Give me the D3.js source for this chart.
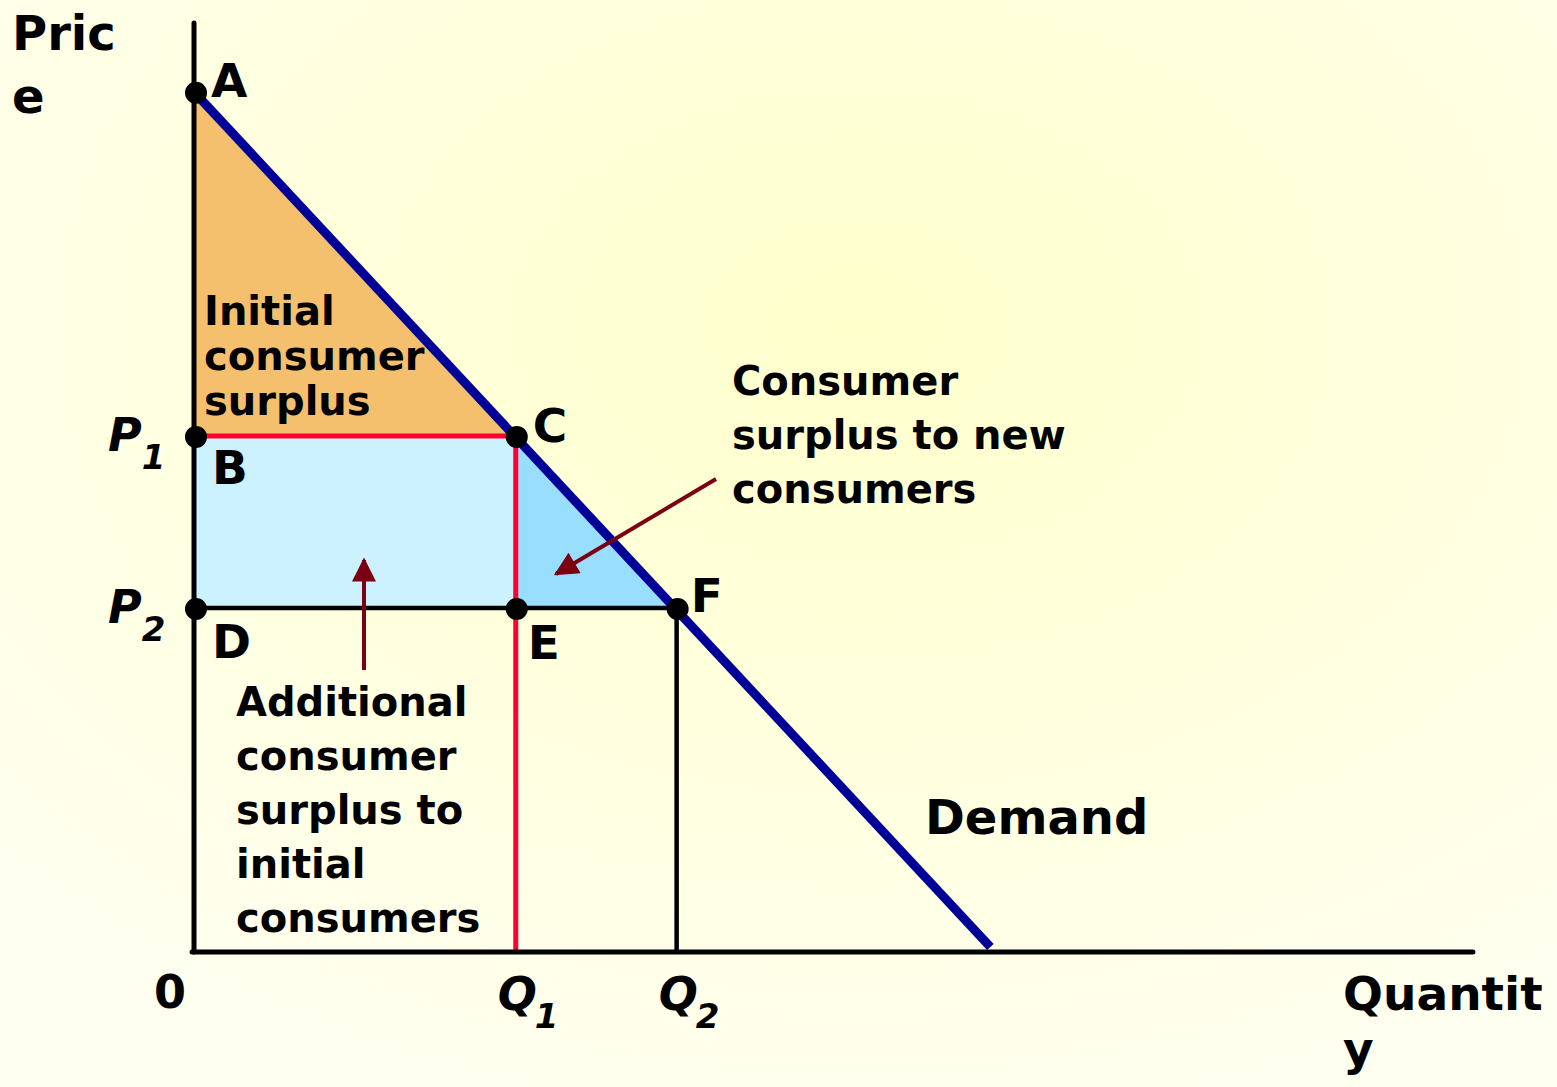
<!DOCTYPE html>
<html lang="en">
<head>
<meta charset="UTF-8">
<title>Consumer surplus</title>
<script src="https://d3js.org/d3.v7.min.js"></script>
<style>
    body { margin: 0; overflow: hidden; }
    svg text { font-family: "DejaVu Sans", Verdana, sans-serif; font-weight: bold; fill: #000; }
</style>
</head>
<body>
<svg id="chart" width="1557" height="1087"></svg>
<script>
    // demand curve end points (quantity, price)
    const demandQ = [0, 10];
    const demandP = [10, 0];
    // market prices and quantities before / after
    const prices = [6, 4];        // P1, P2
    const quantities = [4, 6];    // Q1, Q2
    const priceNames = ['1', '2'];
    const qtyNames = ['1', '2'];
    // labelled points
    const pointNames = ['A', 'B', 'C', 'D', 'E', 'F'];
    const pointQ = [0, 0, 4, 0, 4, 6];
    const pointP = [10, 6, 6, 4, 4, 4];

    const svg = d3.select('#chart');

    // background
    const defs = svg.append('defs');
    const grad = defs.append('radialGradient')
        .attr('id', 'bg')
        .attr('cx', '55%').attr('cy', '30%').attr('r', '75%');
    grad.append('stop').attr('offset', '0%').attr('stop-color', '#ffffcc');
    grad.append('stop').attr('offset', '100%').attr('stop-color', '#fffff0');
    svg.append('rect').attr('width', 1557).attr('height', 1087).attr('fill', 'url(#bg)');

    const x = d3.scaleLinear().domain([0, 16]).range([194, 1481]);
    const y = d3.scaleLinear().domain([0, 10.8]).range([952, 23]);

    const Q1 = quantities[0], Q2 = quantities[1];
    const P1 = prices[0], P2 = prices[1];
    const pA = demandP[0];

    // areas
    svg.append('path')
        .attr('d', d3.line()([[x(0), y(pA)], [x(0), y(P1)], [x(Q1), y(P1)]]) + 'Z')
        .attr('fill', '#f5c06e');
    svg.append('rect')
        .attr('x', x(0)).attr('y', y(P1))
        .attr('width', x(Q1) - x(0)).attr('height', y(P2) - y(P1))
        .attr('fill', '#ccf2ff');
    svg.append('path')
        .attr('d', d3.line()([[x(Q1), y(P1)], [x(Q1), y(P2)], [x(Q2), y(P2)]]) + 'Z')
        .attr('fill', '#99ddff');

    // P2 / Q2 black guide lines
    svg.append('path')
        .attr('d', d3.line()([[x(0), y(P2)], [x(Q2), y(P2)], [x(Q2), y(0)]]))
        .attr('fill', 'none').attr('stroke', '#000').attr('stroke-width', 4.5);

    // P1 / Q1 red guide lines
    svg.append('path')
        .attr('d', d3.line()([[x(0), y(P1)], [x(Q1), y(P1)], [x(Q1), y(0)]]))
        .attr('fill', 'none').attr('stroke', '#ff0033').attr('stroke-width', 5);

    // axes
    svg.append('line')
        .attr('x1', x(0)).attr('y1', y(10.8)).attr('x2', x(0)).attr('y2', y(0))
        .attr('stroke', '#000').attr('stroke-width', 5).attr('stroke-linecap', 'round');
    svg.append('line')
        .attr('x1', x(0) - 2).attr('y1', y(0)).attr('x2', x(15.9)).attr('y2', y(0))
        .attr('stroke', '#000').attr('stroke-width', 5).attr('stroke-linecap', 'round');

    // demand
    svg.append('line')
        .attr('x1', x(demandQ[0])).attr('y1', y(demandP[0]))
        .attr('x2', x(demandQ[1]) - 8).attr('y2', y(demandP[1]) - 5)
        .attr('stroke', '#000099').attr('stroke-width', 9);

    // arrows
    defs.append('marker')
        .attr('id', 'head')
        .attr('viewBox', '0 0 10 10')
        .attr('refX', 9).attr('refY', 5)
        .attr('markerWidth', 8).attr('markerHeight', 6)
        .attr('markerUnits', 'strokeWidth')
        .attr('orient', 'auto')
        .append('path').attr('d', 'M0,0 L10,5 L0,10 Z').attr('fill', '#7a0012');

    const arrows = [
        [364, 670, 364, 560],
        [716, 479, 556, 574]
    ];
    svg.selectAll('.arrow').data(arrows).enter().append('line')
        .attr('class', 'arrow')
        .attr('x1', d => d[0]).attr('y1', d => d[1])
        .attr('x2', d => d[2]).attr('y2', d => d[3])
        .attr('stroke', '#7a0012').attr('stroke-width', 4)
        .attr('marker-end', 'url(#head)');

    // points
    svg.selectAll('.pt').data(pointNames).enter().append('circle')
        .attr('class', 'pt')
        .attr('cx', (d, i) => x(pointQ[i]) + (pointQ[i] === 0 ? 2 : 1))
        .attr('cy', (d, i) => y(pointP[i]) + 1)
        .attr('r', 11)
        .attr('fill', '#000');

    const labelOffsets = {
        A: [17, 5], B: [18, 48], C: [17, 6], D: [18, 50], E: [12, 51], F: [14, 4]
    };
    svg.selectAll('.ptlab').data(pointNames).enter().append('text')
        .attr('class', 'ptlab')
        .attr('x', (d, i) => x(pointQ[i]) + labelOffsets[d][0])
        .attr('y', (d, i) => y(pointP[i]) + labelOffsets[d][1])
        .attr('font-size', 47)
        .text(d => d);

    // price / quantity tick labels
    prices.forEach((p, i) => {
        const t = svg.append('text')
            .attr('x', 108).attr('y', y(p) + 15)
            .attr('font-size', 46).attr('font-style', 'italic');
        t.append('tspan').text('P');
        t.append('tspan').attr('font-size', 34).attr('dy', 18).attr('dx', 0).text(priceNames[i]);
    });
    quantities.forEach((q, i) => {
        const t = svg.append('text')
            .attr('x', x(q) - 18).attr('y', 1010)
            .attr('font-size', 46).attr('font-style', 'italic');
        t.append('tspan').text('Q');
        t.append('tspan').attr('font-size', 34).attr('dy', 18).attr('dx', -2).text(qtyNames[i]);
    });
    svg.append('text').attr('x', 154).attr('y', 1008).attr('font-size', 46).text('0');

    // axis titles
    function block(lines, x0, y0, size, gap) {
        const t = svg.append('text').attr('x', x0).attr('y', y0).attr('font-size', size);
        lines.forEach((s, i) => {
            t.append('tspan').attr('x', x0).attr('dy', i === 0 ? 0 : gap).text(s);
        });
    }
    block(['Pric', 'e'], 12, 50, 48, 63);
    block(['Quantit', 'y'], 1343, 1010, 47, 55);

    block(['Initial', 'consumer', 'surplus'], 204, 325, 40, 45);
    block(['Consumer', 'surplus to new', 'consumers'], 732, 395, 40, 54);
    block(['Additional', 'consumer', 'surplus to', 'initial', 'consumers'], 236, 716, 40, 54);
    svg.append('text').attr('x', 925).attr('y', 834).attr('font-size', 48).text('Demand');
</script>
</body>
</html>
